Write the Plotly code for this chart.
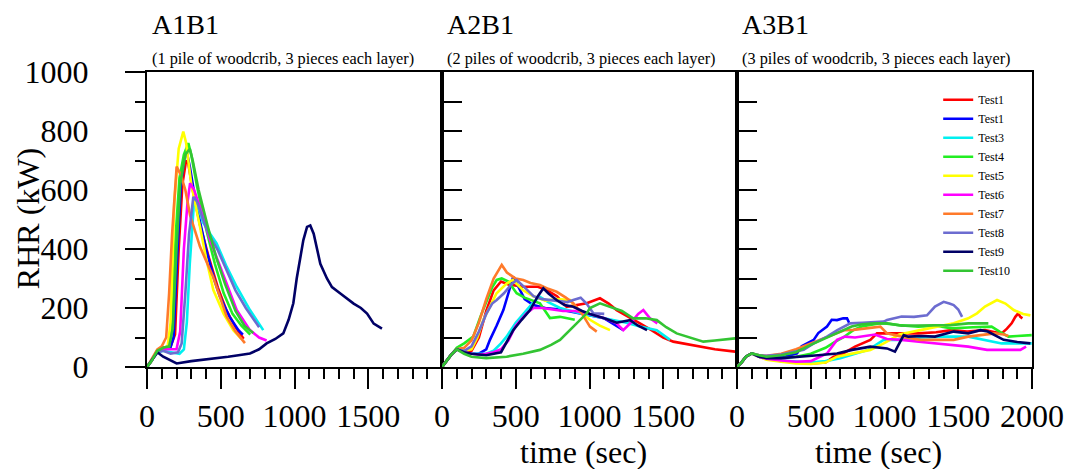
import plotly.graph_objects as go
from plotly.subplots import make_subplots

# ---------------- data ----------------
PANELS = ["A1B1", "A2B1", "A3B1"]
SUBTITLES = ["(1 pile of woodcrib, 3 pieces each layer)",
             "(2 piles of woodcrib, 3 pieces each layer)",
             "(3 piles of woodcrib, 3 pieces each layer)"]
TEST_NAMES = ["Test1", "Test1", "Test3", "Test4", "Test5", "Test6", "Test7", "Test8", "Test9", "Test10"]
TEST_COLORS = ["#ff0000", "#0000ff", "#00f0f0", "#22ee22", "#ffff00", "#ff00ff",
               "#ff7a2a", "#6c6cd0", "#000066", "#33c433"]
X_TICKS_12 = [0, 500, 1000, 1500]
X_TICKS_3 = [0, 500, 1000, 1500, 2000]
Y_TICKS = [0, 200, 400, 600, 800, 1000]

# ---- A1B1 ----
A1_T1_t = [0, 30, 70, 110, 160, 190, 215, 240, 265, 280, 310, 360, 420, 480, 540, 600, 655]
A1_T1_v = [0, 20, 55, 65, 70, 110, 400, 620, 700, 690, 600, 480, 370, 270, 190, 135, 96]
A1_T2_t = [0, 30, 70, 110, 160, 180, 205, 230, 255, 269, 290, 330, 400, 460, 495, 560, 620, 650]
A1_T2_v = [0, 20, 55, 65, 68, 100, 380, 620, 715, 730, 680, 560, 400, 290, 238, 170, 125, 110]
A1_T3_t = [0, 30, 70, 110, 160, 220, 250, 270, 290, 305, 320, 340, 380, 430, 472, 540, 608, 698, 788]
A1_T3_v = [0, 20, 50, 55, 50, 45, 60, 150, 350, 480, 570, 555, 490, 450, 419, 340, 272, 193, 125]
A1_T4_t = [0, 30, 70, 110, 150, 170, 195, 220, 250, 280, 300, 340, 400, 460, 520, 580, 640, 700]
A1_T4_v = [0, 20, 55, 65, 70, 150, 450, 640, 720, 759, 720, 610, 470, 350, 250, 180, 140, 110]
A1_T5_t = [0, 30, 70, 110, 140, 160, 185, 215, 246, 265, 300, 359, 400, 450, 520, 585, 640]
A1_T5_v = [0, 20, 55, 65, 70, 150, 560, 740, 798, 760, 620, 476, 370, 261, 180, 125, 95]
A1_T6_t = [0, 30, 70, 110, 160, 200, 225, 250, 275, 292, 320, 380, 427, 480, 540, 608, 698, 760, 811]
A1_T6_v = [0, 20, 50, 60, 60, 60, 120, 400, 560, 623, 600, 510, 431, 360, 284, 193, 125, 100, 90]
A1_T7_t = [0, 30, 70, 100, 130, 150, 170, 201, 230, 260, 292, 359, 448, 540, 600, 664]
A1_T7_v = [0, 25, 60, 70, 100, 250, 450, 679, 650, 600, 515, 408, 306, 171, 120, 81]
A1_T8_t = [0, 30, 70, 110, 160, 210, 235, 260, 285, 314, 340, 380, 430, 480, 540, 600, 670, 744, 760]
A1_T8_v = [0, 20, 50, 55, 45, 50, 80, 250, 450, 577, 560, 500, 440, 396, 330, 260, 200, 149, 135]
A1_T9_t = [0, 30, 70, 110, 150, 201, 300, 400, 472, 550, 620, 698, 760, 811, 870, 924, 960, 992,
           1015, 1037, 1060, 1085, 1107, 1130, 1175, 1220, 1254, 1311, 1360, 1401, 1450, 1492, 1537, 1593]
A1_T9_v = [0, 20, 50, 35, 25, 12, 20, 25, 29, 35, 40, 46, 60, 80, 95, 114, 160, 216,
           300, 369, 430, 475, 480, 452, 350, 300, 271, 249, 230, 215, 200, 181, 147, 130]
A1_T10_t = [0, 30, 70, 110, 150, 175, 200, 225, 260, 290, 310, 350, 410, 470, 530, 600, 660, 720]
A1_T10_v = [0, 20, 55, 65, 70, 130, 400, 620, 720, 740, 700, 600, 480, 370, 280, 190, 140, 115]

# ---- A2B1 ----
A2_T1_t = [0, 30, 60, 100, 150, 200, 250, 300, 350, 400, 450, 550, 650, 708, 780, 845, 920, 981, 1071,
           1130, 1184, 1250, 1342, 1420, 1500, 1568, 1650, 1749, 1850, 1987]
A2_T1_v = [0, 20, 40, 60, 50, 55, 100, 190, 260, 290, 280, 272, 272, 261, 240, 204, 210, 216, 233,
           215, 193, 175, 148, 125, 100, 86, 78, 69, 60, 52]
A2_T2_t = [0, 30, 60, 100, 150, 200, 250, 300, 325, 370, 416, 450, 483, 520, 560, 620, 700, 800, 900,
           1000, 1100, 1230]
A2_T2_v = [0, 20, 40, 60, 50, 45, 45, 60, 92, 140, 193, 250, 306, 270, 230, 210, 200, 195, 185,
           175, 165, 125]
A2_T3_t = [0, 30, 60, 100, 150, 200, 300, 350, 400, 438, 500, 574, 620, 664, 720, 800, 935, 1050,
           1150, 1250, 1342, 1456, 1546]
A2_T3_v = [0, 20, 40, 60, 50, 45, 45, 55, 80, 103, 150, 193, 220, 238, 220, 200, 182, 170,
           160, 150, 137, 125, 92]
A2_T4_t = [0, 30, 60, 100, 150, 212, 260, 300, 340, 371, 405, 450, 506, 560, 620, 664, 732, 800, 900]
A2_T4_v = [0, 20, 40, 65, 80, 103, 170, 220, 270, 295, 300, 290, 250, 235, 225, 216, 166, 170, 160]
A2_T5_t = [0, 30, 60, 100, 150, 200, 240, 280, 330, 370, 438, 480, 550, 620, 700, 780, 868, 930,
           1003, 1070, 1139]
A2_T5_v = [0, 20, 40, 60, 55, 60, 100, 159, 210, 250, 283, 295, 260, 240, 225, 230, 227, 190,
           160, 140, 125]
A2_T6_t = [0, 30, 60, 100, 150, 200, 250, 300, 350, 400, 450, 500, 574, 620, 680, 750, 820, 900,
           1000, 1100, 1180, 1229, 1280, 1330, 1365, 1410, 1460]
A2_T6_v = [0, 20, 40, 60, 50, 45, 42, 45, 50, 60, 90, 140, 182, 200, 200, 195, 190, 190,
           180, 165, 150, 125, 150, 180, 193, 165, 148]
A2_T7_t = [0, 30, 60, 100, 150, 200, 250, 300, 350, 405, 440, 500, 551, 600, 664, 720, 777, 840,
           890, 950, 1003, 1049]
A2_T7_v = [0, 20, 40, 60, 65, 90, 150, 230, 300, 346, 320, 300, 295, 285, 278, 265, 255, 235,
           216, 180, 137, 120]
A2_T8_t = [0, 30, 60, 100, 150, 200, 250, 300, 340, 371, 420, 470, 506, 560, 620, 680, 732, 800,
           850, 890, 940, 980, 1026, 1100]
A2_T8_v = [0, 20, 40, 60, 55, 70, 120, 180, 215, 227, 250, 280, 295, 270, 240, 230, 227, 225,
           220, 227, 235, 215, 182, 180]
A2_T9_t = [0, 30, 60, 100, 150, 200, 300, 400, 483, 540, 597, 650, 687, 720, 777, 830, 890, 950,
           1003, 1100, 1184, 1275, 1330, 1390]
A2_T9_v = [0, 20, 40, 60, 50, 45, 40, 50, 125, 160, 193, 240, 267, 250, 227, 210, 204, 190,
           180, 165, 150, 159, 140, 125]
A2_T10_t = [0, 30, 60, 100, 150, 200, 300, 438, 550, 664, 740, 800, 860, 913, 981, 1003, 1071, 1139,
            1220, 1296, 1380, 1456, 1520, 1591, 1680, 1772, 1850, 1907, 1987]
A2_T10_v = [0, 20, 40, 60, 45, 35, 30, 35, 45, 58, 75, 92, 120, 148, 182, 200, 216, 204,
            190, 165, 165, 159, 135, 114, 100, 86, 90, 92, 97]

# ---- A3B1 ----
A3_T1_t = [0, 30, 60, 100, 150, 200, 300, 400, 500, 600, 655, 700, 800, 904, 949, 1000, 1100, 1229,
           1350, 1455, 1560, 1681, 1750, 1794, 1830, 1862, 1887, 1907, 1921, 1935]
A3_T1_v = [0, 15, 35, 46, 35, 28, 20, 15, 12, 15, 35, 40, 69, 92, 114, 114, 115, 114,
           118, 125, 120, 125, 118, 114, 130, 148, 170, 182, 170, 165]
A3_T2_t = [0, 30, 60, 100, 150, 200, 250, 325, 407, 438, 520, 551, 610, 642, 678, 720, 746, 760]
A3_T2_v = [0, 15, 35, 46, 35, 30, 32, 35, 46, 70, 92, 115, 137, 160, 159, 165, 165, 150]
A3_T3_t = [0, 30, 60, 100, 150, 200, 300, 400, 500, 600, 700, 800, 890, 995, 1116, 1250, 1400,
           1568, 1700, 1794, 1900, 1998]
A3_T3_v = [0, 15, 35, 46, 35, 28, 22, 18, 15, 20, 30, 45, 58, 92, 92, 100, 103,
           103, 90, 80, 80, 80]
A3_T4_t = [0, 30, 60, 100, 150, 200, 300, 400, 500, 600, 664, 720, 791, 845, 972, 1003, 1100, 1229,
           1350, 1455, 1600, 1726, 1780, 1840, 1900, 1998]
A3_T4_v = [0, 15, 35, 46, 35, 28, 30, 35, 45, 65, 85, 100, 126, 137, 148, 148, 142, 137,
           140, 131, 135, 137, 120, 103, 105, 108]
A3_T5_t = [0, 30, 60, 100, 150, 200, 300, 400, 500, 600, 678, 780, 904, 995, 1100, 1243, 1350,
           1469, 1568, 1627, 1681, 1763, 1820, 1876, 1940, 1989]
A3_T5_v = [0, 15, 35, 46, 35, 25, 18, 12, 10, 15, 35, 45, 58, 80, 110, 125, 135,
           148, 165, 182, 205, 227, 215, 193, 180, 175]
A3_T6_t = [0, 30, 60, 100, 150, 200, 300, 400, 500, 610, 678, 732, 800, 935, 1017, 1116, 1250,
           1342, 1469, 1568, 1695, 1794, 1921, 1960]
A3_T6_v = [0, 15, 35, 46, 35, 28, 22, 18, 20, 46, 92, 103, 100, 110, 95, 92, 85,
           80, 74, 69, 58, 58, 58, 69]
A3_T7_t = [0, 30, 60, 100, 150, 200, 300, 400, 500, 565, 650, 732, 791, 850, 935, 972, 1017, 1116,
           1243, 1342, 1469, 1568, 1650, 1749, 1810, 1840]
A3_T7_v = [0, 15, 35, 46, 40, 38, 45, 60, 80, 92, 110, 125, 126, 130, 137, 137, 114, 103,
           92, 92, 92, 103, 108, 114, 110, 105]
A3_T8_t = [0, 30, 60, 100, 150, 200, 300, 380, 452, 520, 610, 680, 768, 850, 995, 1017, 1116, 1200,
           1288, 1342, 1401, 1440, 1469, 1500, 1526]
A3_T8_v = [0, 15, 35, 46, 40, 38, 42, 50, 58, 80, 103, 125, 148, 150, 154, 159, 171, 170,
           175, 205, 221, 215, 210, 195, 170]
A3_T9_t = [0, 30, 60, 100, 150, 200, 300, 452, 550, 678, 780, 904, 1017, 1071, 1130, 1161, 1250,
           1342, 1469, 1568, 1650, 1700, 1808, 1900, 1989]
A3_T9_v = [0, 15, 35, 46, 35, 30, 30, 35, 40, 46, 58, 69, 63, 52, 108, 103, 105,
           103, 120, 114, 125, 120, 92, 85, 80]
A3_T10_t = [0, 30, 60, 100, 150, 200, 300, 400, 500, 619, 700, 777, 850, 935, 1017, 1116, 1250,
            1342, 1450, 1568, 1650, 1704]
A3_T10_v = [0, 15, 35, 46, 40, 35, 40, 50, 75, 103, 120, 137, 145, 148, 148, 140, 140,
            140, 142, 148, 148, 148]

SERIES = [
    [(A1_T1_t, A1_T1_v), (A1_T2_t, A1_T2_v), (A1_T3_t, A1_T3_v), (A1_T4_t, A1_T4_v), (A1_T5_t, A1_T5_v),
     (A1_T6_t, A1_T6_v), (A1_T7_t, A1_T7_v), (A1_T8_t, A1_T8_v), (A1_T9_t, A1_T9_v), (A1_T10_t, A1_T10_v)],
    [(A2_T1_t, A2_T1_v), (A2_T2_t, A2_T2_v), (A2_T3_t, A2_T3_v), (A2_T4_t, A2_T4_v), (A2_T5_t, A2_T5_v),
     (A2_T6_t, A2_T6_v), (A2_T7_t, A2_T7_v), (A2_T8_t, A2_T8_v), (A2_T9_t, A2_T9_v), (A2_T10_t, A2_T10_v)],
    [(A3_T1_t, A3_T1_v), (A3_T2_t, A3_T2_v), (A3_T3_t, A3_T3_v), (A3_T4_t, A3_T4_v), (A3_T5_t, A3_T5_v),
     (A3_T6_t, A3_T6_v), (A3_T7_t, A3_T7_v), (A3_T8_t, A3_T8_v), (A3_T9_t, A3_T9_v), (A3_T10_t, A3_T10_v)],
]

# ---------------- figure ----------------
FONT = "Liberation Serif, Times New Roman, serif"
fig = make_subplots(rows=1, cols=3, horizontal_spacing=0, shared_yaxes=False)

for p, panel in enumerate(SERIES):
    for i, (t, v) in enumerate(panel):
        fig.add_trace(go.Scatter(
            x=t, y=v, mode="lines", name=TEST_NAMES[i],
            line=dict(color=TEST_COLORS[i], width=2.6),
            showlegend=(p == 2), legendrank=i,
        ), row=1, col=p + 1)

for c in range(1, 4):
    tv = X_TICKS_3 if c == 3 else X_TICKS_12
    fig.update_xaxes(
        row=1, col=c, range=[0, 2000], tickmode="array", tickvals=tv, ticktext=[str(x) for x in tv],
        showline=True, linecolor="black", linewidth=2, mirror=True,
        ticks="outside", ticklen=20, tickwidth=2, tickcolor="black",
        minor=dict(tickmode="linear", tick0=0, dtick=100, ticks="outside", ticklen=10,
                   tickwidth=1.5, tickcolor="black", showgrid=False),
        showgrid=False, zeroline=False, automargin=False,
        tickfont=dict(family=FONT, size=32, color="black"), ticklabelstandoff=0,
    )
    if c == 1:
        fig.update_yaxes(
            row=1, col=c, range=[0, 1000], tickmode="array", tickvals=Y_TICKS,
            ticktext=[str(y) for y in Y_TICKS],
            showline=True, linecolor="black", linewidth=2, mirror=True,
            ticks="outside", ticklen=20, tickwidth=2, tickcolor="black",
            minor=dict(tickmode="linear", tick0=0, dtick=100, ticks="outside", ticklen=10,
                       tickwidth=1.5, tickcolor="black", showgrid=False),
            showgrid=False, zeroline=False, automargin=False,
            tickfont=dict(family=FONT, size=32, color="black"), ticklabelstandoff=30,
        )
    else:
        fig.update_yaxes(
            row=1, col=c, range=[0, 1000], tickmode="linear", tick0=0, dtick=100,
            showline=True, linecolor="black", linewidth=2, mirror=True,
            ticks="inside", ticklen=20, tickwidth=2, tickcolor="black",
            showticklabels=False, showgrid=False, zeroline=False, automargin=False,
        )

annotations = []
for p in range(3):
    x0 = p / 3.0
    annotations.append(dict(text=PANELS[p], x=x0 + 0.003, y=1.162, xref="paper", yref="paper",
                            xanchor="left", yanchor="middle", showarrow=False,
                            font=dict(family=FONT, size=28, color="black")))
    annotations.append(dict(text=SUBTITLES[p], x=x0 + 0.003, y=1.047, xref="paper", yref="paper",
                            xanchor="left", yanchor="middle", showarrow=False,
                            font=dict(family=FONT, size=16.3, color="black")))
for p in (1, 2):
    annotations.append(dict(text="time (sec)", x=p / 3.0 + 0.16, y=-0.288, xref="paper", yref="paper",
                            xanchor="center", yanchor="middle", showarrow=False,
                            font=dict(family=FONT, size=32, color="black")))
annotations.append(dict(text="RHR (kW)", x=-0.135, y=0.503, xref="paper", yref="paper",
                        xanchor="center", yanchor="middle", textangle=-90, showarrow=False,
                        font=dict(family=FONT, size=32, color="black")))

fig.update_layout(
    width=1070, height=469,
    margin=dict(l=147, r=38, t=72, b=102, autoexpand=False),
    paper_bgcolor="white", plot_bgcolor="white",
    annotations=annotations,
    legend=dict(x=0.894, y=0.955, xanchor="left", yanchor="top", bgcolor="rgba(0,0,0,0)",
                font=dict(family=FONT, size=12, color="black"), tracegroupgap=0,
                itemwidth=30),
    showlegend=True,
)

fig.write_html("out.html", config={"displayModeBar": False},
               post_script="document.body.style.margin='0';document.body.style.overflow='hidden';")
